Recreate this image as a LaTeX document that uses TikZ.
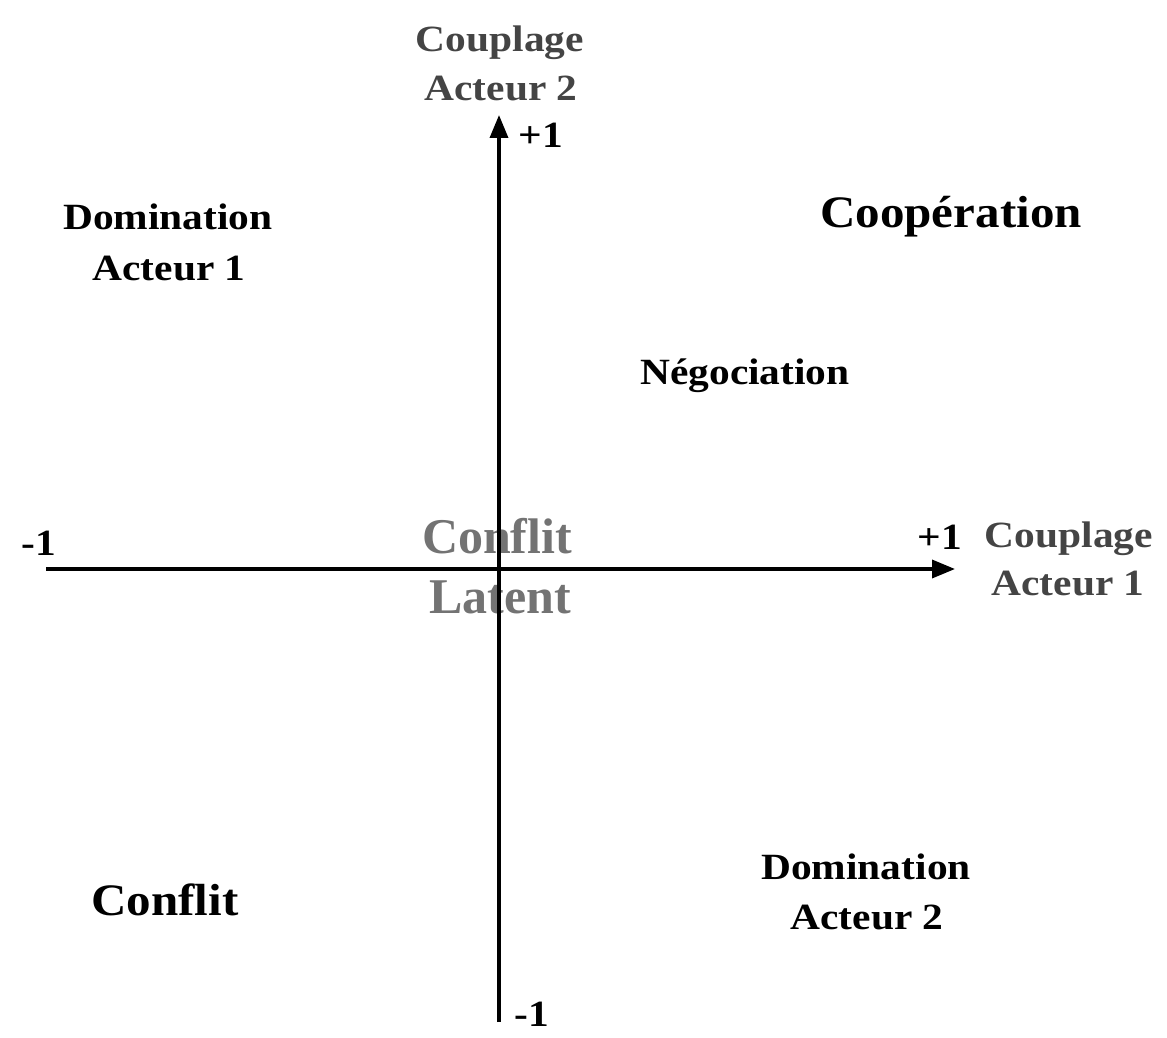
\documentclass[tikz,border=0pt]{standalone}
\usepackage{fontspec}
\setmainfont{Liberation Serif}
\newfontfamily\fa[FakeStretch=1.12]{Liberation Serif}
\newfontfamily\fb[FakeStretch=1.09]{Liberation Serif}
\usetikzlibrary{arrows.meta}
\definecolor{axislabel}{RGB}{68,68,68}
\tikzset{
  lbl/.style={anchor=base, inner sep=0pt, font=\fa\bfseries\fontsize{37}{44}\selectfont},
  big/.style={anchor=base, inner sep=0pt, font=\fb\bfseries\fontsize{45}{54}\selectfont},
  axl/.style={lbl, text=axislabel},
  latent/.style={anchor=base, inner sep=0pt, font=\bfseries\fontsize{50}{60}\selectfont, text=black, text opacity=0.55},
  axis/.style={line width=3.5pt, -{Triangle[length=23pt,width=18pt]}}
}
\begin{document}
\begin{tikzpicture}[x=1pt,y=-1pt]
\useasboundingbox (0,0) rectangle (1167,1038);
\coordinate (xl) at (46,569);
\coordinate (xr) at (955,569);
\coordinate (yb) at (499,1022);
\coordinate (yt) at (499,115);
\draw[axis] (xl) -- (xr);
\draw[axis] (yb) -- (yt);
% top axis label
\node[axl] (c2a) at (500,52) {Couplage};
\node[axl] (c2b) at (501,101) {Acteur 2};
\node[lbl] (ptop) at (541,147) {+1};
% right axis label
\node[lbl] (pright) at (940,549) {+1};
\node[axl] (c1a) at (1069,547) {Couplage};
\node[axl] (c1b) at (1068,595) {Acteur 1};
% ends
\node[lbl] (mleft) at (39,555) {-1};
\node[lbl] (mbot) at (532,1026) {-1};
% quadrants
\node[lbl] (d1a) at (168,229) {Domination};
\node[lbl] (d1b) at (169,280) {Acteur 1};
\node[big] (coop) at (951,227) {Coopération};
\node[lbl] (nego) at (745,384) {Négociation};
\node[lbl] (d2a) at (866,879) {Domination};
\node[lbl] (d2b) at (867,929) {Acteur 2};
\node[big] (confl) at (165,915) {Conflit};
% centre
\node[latent] (cla) at (497,553) {Conflit};
\node[latent] (clb) at (500,613) {Latent};
\end{tikzpicture}
\end{document}
